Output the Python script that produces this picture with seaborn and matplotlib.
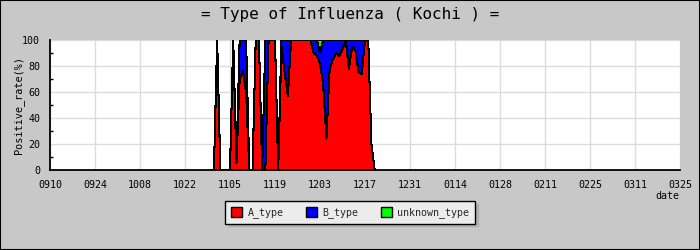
import numpy as np
import pandas as pd
import matplotlib
matplotlib.use("Agg")
import matplotlib.pyplot as plt
from matplotlib.patches import Patch, Rectangle
from matplotlib.ticker import MultipleLocator
import seaborn as sns

# ---------------- data ----------------
season_start = "2014-09-10"
data_start = "2014-10-30"

A_type = [0, 0, 100, 0, 0, 0, 0, 100, 5, 70, 76, 60, 0, 0, 100, 100, 0, 0,
          100, 100, 100, 0, 95, 75, 57, 100, 100, 100, 100, 100, 100, 100,
          90, 88, 82, 65, 24, 78, 85, 90, 88, 93, 100, 78, 95, 92, 75, 74,
          100, 100, 20, 0]
B_type = [0, 0, 0, 0, 0, 0, 0, 0, 0, 30, 24, 40, 0, 0, 0, 0, 0, 100,
          0, 0, 0, 0, 5, 25, 43, 0, 0, 0, 0, 0, 0, 0,
          10, 12, 8, 35, 76, 22, 15, 10, 12, 7, 0, 22, 5, 8, 25, 26,
          0, 0, 0, 0]
unknown_type = [0, 0, 0, 0, 0, 0, 0, 0, 0, 0, 0, 0, 0, 0, 0, 0, 0, 0,
                0, 0, 0, 0, 0, 0, 0, 0, 0, 0, 0, 0, 0, 0,
                0, 0, 10, 0, 0, 0, 0, 0, 0, 0, 0, 0, 0, 0, 0, 0,
                0, 0, 0, 0]

x_tick_labels = ["0910", "0924", "1008", "1022", "1105", "1119", "1203",
                 "1217", "1231", "0114", "0128", "0211", "0225", "0311", "0325"]
tick_step_days = 14
y_ticks = [0, 20, 40, 60, 80, 100]
series_names = ["A_type", "B_type", "unknown_type"]
series_colors = ["#ff0000", "#0000ff", "#00ff00"]

# ---------------- style ----------------
sns.set_theme(style="white")
plt.rcParams["font.family"] = ["DejaVu Sans Mono", "DejaVu Sans"]

dates = pd.date_range(data_start, periods=len(A_type), freq="D")
df = pd.DataFrame({
    "day": (dates - pd.Timestamp(season_start)).days,
    "A_type": A_type, "B_type": B_type, "unknown_type": unknown_type,
})
df["top_A"] = df["A_type"]
df["top_B"] = df["top_A"] + df["B_type"]
df["top_U"] = df["top_B"] + df["unknown_type"]

W, H = 700, 250
fig = plt.figure(figsize=(W / 100, H / 100), dpi=100, facecolor="#c8c8c8")
ax = fig.add_axes([50 / W, 80 / H, 630 / W, 130 / H])
ax.set_facecolor("white")

ax.fill_between(df["day"], 0, df["top_A"], color=series_colors[0], lw=0, antialiased=False, zorder=1)
ax.fill_between(df["day"], df["top_A"], df["top_B"], color=series_colors[1], lw=0, antialiased=False, zorder=1)
ax.fill_between(df["day"], df["top_B"], df["top_U"], color=series_colors[2], lw=0, antialiased=False, zorder=1)
for col in ["top_A", "top_B", "top_U"]:
    sns.lineplot(data=df, x="day", y=col, color="black", lw=0.75, ax=ax,
                 legend=False, antialiased=False, zorder=2)

n_days = tick_step_days * (len(x_tick_labels) - 1)
ax.set_xlim(0, n_days)
ax.set_ylim(0, 100)
ax.set_xticks(np.arange(len(x_tick_labels)) * tick_step_days)
ax.set_xticklabels(x_tick_labels)
ax.set_yticks(y_ticks)
ax.yaxis.set_minor_locator(MultipleLocator(10))
ax.set_xlabel("")
ax.set_ylabel("")

ax.grid(True, which="major", color="#dcdcdc", lw=1)
ax.set_axisbelow(True)
for s in ["top", "right"]:
    ax.spines[s].set_visible(False)
for s in ["left", "bottom"]:
    ax.spines[s].set_color("black")
    ax.spines[s].set_linewidth(1.3)
    ax.spines[s].set_zorder(3)

ax.tick_params(axis="both", which="major", direction="in", length=3.5,
               width=1, color="black", labelsize=7.2, labelcolor="black")
ax.tick_params(axis="y", which="minor", direction="in", length=2, width=1,
               color="black", left=True)
ax.tick_params(axis="x", which="major", pad=7)
ax.tick_params(axis="y", which="major", pad=7)

fig.text(0.5, 1 - 14 / H, "= Type of Influenza ( Kochi ) =", ha="center",
         va="center", fontsize=11.5, color="black")
fig.text(19 / W, 1 - 105 / H, "Positive_rate(%)", rotation=90, ha="center",
         va="center", fontsize=7.4, color="black")
fig.text(679 / W, 1 - 196 / H, "date", ha="right", va="center",
         fontsize=7.2, color="black")

handles = [Patch(facecolor=c, edgecolor="black", lw=1) for c in series_colors]
fig.legend(handles, series_names, loc="center",
           bbox_to_anchor=(350 / W, 1 - 212.5 / H), ncol=3, frameon=True,
           fancybox=False, edgecolor="black", facecolor="#ececec",
           framealpha=1, shadow={"color": "#b0b0b0", "alpha": 1},
           fontsize=7.2, handlelength=1.1, handleheight=1.1,
           handletextpad=0.6, columnspacing=2.2, borderpad=0.55)

fig.patches.append(Rectangle((0, 0), 1, 1, transform=fig.transFigure,
                             fill=False, edgecolor="black", lw=1.5))

fig.savefig("out.png", dpi=100, facecolor=fig.get_facecolor())
